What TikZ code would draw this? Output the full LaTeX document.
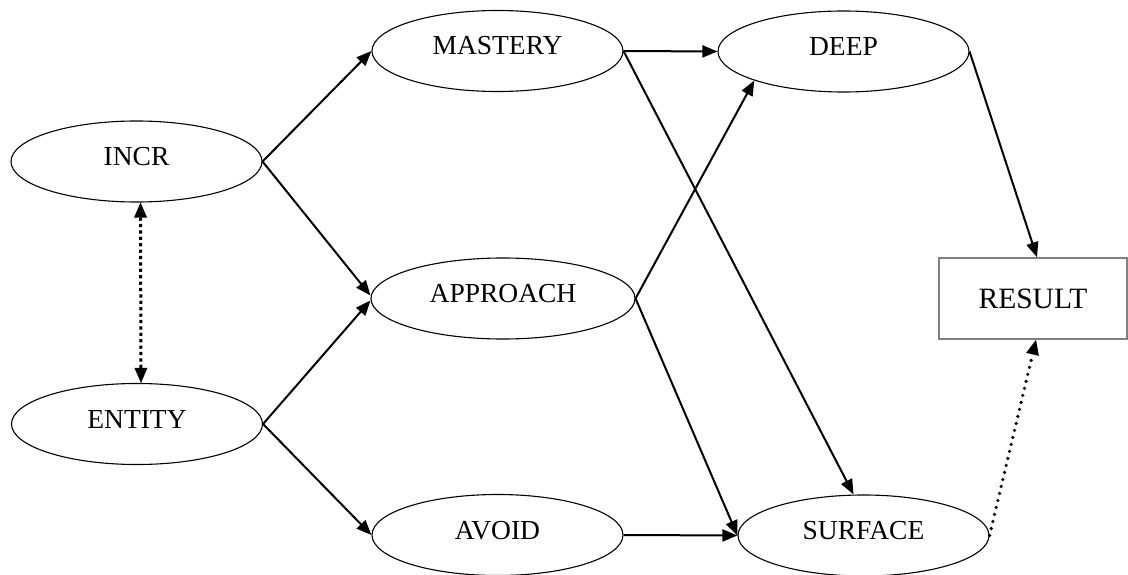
\documentclass[tikz,border=0pt]{standalone}
\usepackage{fontspec}
\setmainfont{Liberation Serif}
\usetikzlibrary{shapes.geometric,arrows.meta}
\begin{document}
\begin{tikzpicture}[x=1pt,y=-1pt,
  oval/.style={ellipse,draw=black,line width=1.1pt,inner sep=0pt,
    minimum width=251pt,minimum height=81pt,
    font=\fontsize{27.5}{30}\selectfont,text height=8pt,text depth=0pt},
  resbox/.style={rectangle,draw=black!50,line width=1.5pt,inner sep=0pt,
    minimum width=188pt,minimum height=81pt,
    font=\fontsize{29.5}{32}\selectfont,text height=20pt,text depth=0pt},
  link/.style={line width=2pt,-{Triangle[length=15pt,width=12pt]}},
  squaredots/.style={line width=3pt,dash pattern=on 3.2pt off 3.2pt,
    {Triangle[length=15pt,width=13pt,line width=0pt]}-{Triangle[length=15pt,width=13pt,line width=0pt]}},
  rounddots/.style={line width=3.6pt,line cap=round,dash pattern=on 0pt off 7.2pt,
    -{Triangle[length=15pt,width=13pt,line width=0pt,round=false]}}
]
\useasboundingbox (0,0) rectangle (1128,575);
\node[oval] (incr) at (136.5,161.5) {INCR};
\node[oval] (entity) at (137,424) {ENTITY};
\node[oval] (mastery) at (497.5,51) {MASTERY};
\node[oval,minimum width=264pt] (approach) at (503,298.5) {APPROACH};
\node[oval] (avoid) at (497.5,535) {AVOID};
\node[oval] (deep) at (843.5,51.5) {DEEP};
\node[oval] (surface) at (863.5,535.5) {SURFACE};
\node[resbox] (result) at (1033,298.5) {RESULT};

\draw[link] (incr.east) -- (mastery.west);
\draw[link] (incr.east) -- ([yshift=3pt]approach.west);
\draw[link] (entity.east) -- ([yshift=-2pt]approach.west);
\draw[link] (entity.east) -- (avoid.west);
\draw[link] (mastery.east) -- (deep.west);
\draw[link] (mastery.east) -- ([xshift=-10pt]surface.north);
\draw[link] (approach.east) -- (deep.198);
\draw[link] (approach.east) -- (surface.west);
\draw[link] (avoid.east) -- (surface.west);
\draw[link] (deep.east) -- ([xshift=4pt]result.north);
\draw[squaredots] ([xshift=4pt]incr.south) -- ([xshift=4pt]entity.north);
\draw[rounddots] (surface.east) -- ([xshift=3pt]result.south);
\end{tikzpicture}
\end{document}
